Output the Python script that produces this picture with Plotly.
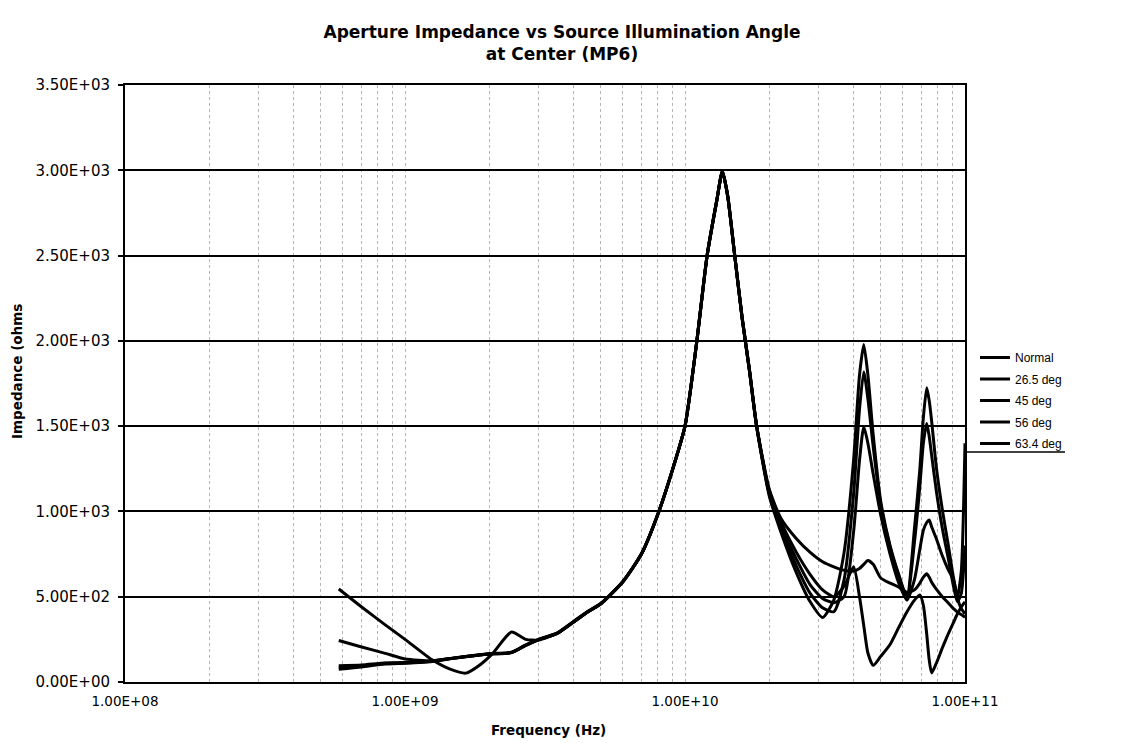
import plotly.graph_objects as go

# Frequency grid (GHz)
freq_ghz = [0.58, 0.7, 0.85, 1.0, 1.25, 1.45, 1.65, 1.85, 2.05, 2.4, 2.7, 3.0, 3.5, 4.0, 4.5, 5.0,
            6.0, 7.0, 8.0, 9.0, 10, 11, 12, 13, 13.6, 14.2, 15, 16, 17, 18,
            20, 22, 25, 28, 31, 34, 37, 40, 42, 43.5, 45, 47, 50, 54, 58, 62, 66, 69, 71, 73,
            74.5, 76, 79, 83, 87, 91, 94, 97, 100]

normal = [75, 88, 105, 110, 120, 136, 150, 160, 167, 175, 218, 250, 288, 355, 415, 460,
          590, 755, 985, 1240, 1500, 1985, 2500, 2825, 2995, 2850, 2520, 2130, 1820, 1500,
          1090, 880, 640, 470, 378, 480, 760, 1300, 1800, 1978, 1800, 1450, 1060, 800, 630, 500, 900, 1250, 1550, 1725,
          1650, 1530, 1260, 1010, 810, 610, 500, 650, 1400]

deg_26_5 = [85, 95, 110, 112, 122, 137, 148, 158, 165, 172, 215, 248, 286, 352, 412, 458,
            588, 752, 983, 1238, 1500, 1990, 2505, 2830, 2995, 2855, 2525, 2140, 1830, 1510,
            1100, 900, 680, 520, 435, 412, 600, 1100, 1600, 1818, 1660, 1380, 1040, 790, 620, 490, 820, 1150, 1400, 1515,
            1440, 1330, 1120, 900, 730, 560, 470, 520, 800]

deg_45 = [95, 100, 112, 114, 123, 138, 149, 159, 166, 173, 216, 249, 287, 353, 413, 459,
          589, 753, 984, 1239, 1500, 1988, 2502, 2828, 2995, 2852, 2522, 2135, 1825, 1505,
          1110, 920, 720, 570, 490, 465, 500, 880, 1300, 1497, 1400, 1220, 980, 750, 580, 480, 600, 780, 890, 935,
          950, 910, 840, 740, 660, 600, 490, 430, 400]

deg_56 = [243, 205, 168, 135, 125, 137, 149, 158, 165, 172, 214, 247, 285, 351, 411, 457,
          587, 751, 982, 1237, 1500, 1985, 2500, 2825, 2993, 2848, 2518, 2130, 1822, 1508,
          1130, 960, 840, 760, 705, 675, 655, 650, 665, 690, 712, 690, 610, 580, 556, 525, 540, 580, 615, 634,
          615, 585, 545, 500, 465, 430, 410, 395, 380]

deg_63_4 = [545, 440, 335, 250, 130, 75, 52, 100, 165, 293, 250, 246, 286, 352, 412, 458,
            588, 752, 983, 1238, 1500, 1987, 2503, 2827, 2994, 2850, 2520, 2132, 1824, 1506,
            1120, 940, 760, 630, 540, 500, 560, 675, 500, 330, 170, 98, 150, 220, 320, 410, 480, 510, 450, 280,
            130, 53, 110, 200, 280, 350, 400, 440, 470]

series_names = ["Normal", "26.5 deg", "45 deg", "56 deg", "63.4 deg"]
series_values = [normal, deg_26_5, deg_45, deg_56, deg_63_4]

x_tickvals = [1e8, 1e9, 1e10, 1e11]
x_ticktext = ["1.00E+08", "1.00E+09", "1.00E+10", "1.00E+11"]
y_tickvals = [0, 500, 1000, 1500, 2000, 2500, 3000, 3500]
y_ticktext = ["0.00E+00", "5.00E+02", "1.00E+03", "1.50E+03", "2.00E+03", "2.50E+03", "3.00E+03", "3.50E+03"]

freq_hz = [f * 1e9 for f in freq_ghz]

PL, PR, PT, PB = 125, 965, 85, 682
PW, PH = PR - PL, PB - PT

fig = go.Figure()
for i, (name, vals) in enumerate(zip(series_names, series_values)):
    fig.add_trace(go.Scatter(
        x=freq_hz, y=vals, mode="lines", name=name, legendgroup=f"g{i}",
        line=dict(color="black", width=3, shape="spline", smoothing=0.6),
    ))

fig.update_layout(
    width=1122, height=743,
    margin=dict(l=PL, r=1122 - PR, t=PT, b=743 - PB, autoexpand=False),
    paper_bgcolor="white", plot_bgcolor="white",
    title=dict(
        text="Aperture Impedance vs Source Illumination Angle<br>at Center (MP6)",
        x=(562 - PL) / PW, xref="paper", xanchor="center",
        y=1 - 38 / 743, yref="container", yanchor="top",
        font=dict(family="DejaVu Sans", size=17, color="black", weight="bold"),
    ),
    legend=dict(
        x=(975 - PL) / PW, xanchor="left",
        y=(PB - 343) / PH, yanchor="top",
        font=dict(family="Liberation Sans", size=12, color="black"),
        bgcolor="rgba(0,0,0,0)", borderwidth=0,
        tracegroupgap=2.5,
    ),
    showlegend=True,
)

fig.update_xaxes(
    type="log", range=[8, 11], automargin=False,
    tickvals=x_tickvals, ticktext=x_ticktext,
    tickfont=dict(family="DejaVu Sans", size=13.5, color="black"),
    showgrid=False,
    minor=dict(dtick="D1", showgrid=True, gridcolor="#b4b4b4", griddash="dot", gridwidth=1, ticks=""),
    showline=True, linecolor="black", linewidth=2, mirror=True,
    ticks="", ticklabelstandoff=6,
    zeroline=False,
)
fig.update_yaxes(
    range=[0, 3500], automargin=False,
    tickvals=y_tickvals, ticktext=y_ticktext,
    tickfont=dict(family="DejaVu Sans", size=15, color="black"),
    showgrid=True, gridcolor="black", gridwidth=1.5,
    showline=True, linecolor="black", linewidth=2, mirror=True,
    ticks="outside", ticklen=5, tickcolor="black", tickwidth=1.5, ticklabelstandoff=5,
    zeroline=False,
)

# axis titles as positioned text
fig.add_annotation(
    text="Frequency (Hz)", showarrow=False,
    xref="paper", yref="paper", x=(548 - PL) / PW, y=(PB - 730) / PH, xanchor="center", yanchor="middle",
    font=dict(family="DejaVu Sans", size=13.5, color="black", weight="bold"),
)
fig.add_annotation(
    text="Impedance (ohms", textangle=-90, showarrow=False,
    xref="paper", yref="paper", x=(17 - PL) / PW, y=(PB - 372) / PH, xanchor="center", yanchor="middle",
    font=dict(family="DejaVu Sans", size=13.5, color="black", weight="bold"),
)

# legend bottom rule
fig.add_shape(type="line", xref="paper", yref="paper",
              x0=1.0, x1=(1065 - PL) / PW,
              y0=(PB - 452) / PH, y1=(PB - 452) / PH,
              line=dict(color="black", width=1.5))

fig.write_html("out.html")
